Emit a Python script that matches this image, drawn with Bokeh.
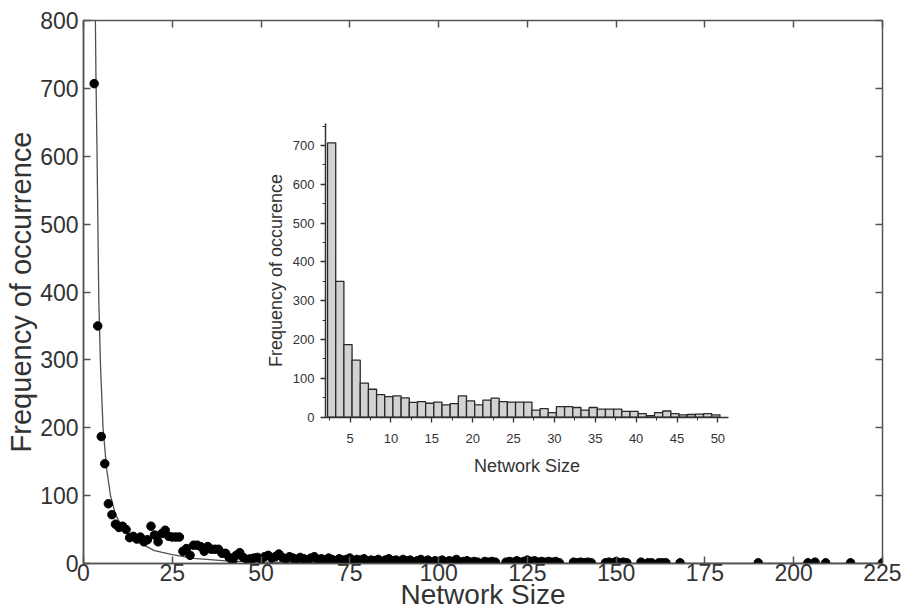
import numpy as np
from bokeh.plotting import figure
from bokeh.models import Range1d, LinearAxis, SingleIntervalTicker, ColumnDataSource
from bokeh.embed import file_html
from bokeh.resources import INLINE

# ---------------- data ----------------
# inset histogram: frequency of each network size 3..50
hist_sizes = list(range(3, 51))
hist_counts = [707, 350, 187, 147, 88, 72, 58, 53, 55, 50,
               38, 40, 36, 39, 32, 35, 55, 42, 32, 44,
               49, 40, 39, 39, 39, 18, 22, 12, 27, 27,
               25, 18, 25, 21, 21, 21, 15, 15, 9, 4,
               12, 16, 9, 6, 7, 8, 9, 6]

# main scatter: sizes beyond 50
tail_sizes = [51, 52, 53, 54, 55, 56, 57, 58, 59, 60,
              61, 62, 63, 64, 65, 66, 67, 68, 69, 70,
              71, 72, 73, 74, 75, 76, 77, 78, 79, 80,
              81, 82, 83, 84, 85, 86, 87, 88, 89, 90,
              91, 92, 93, 94, 95, 96, 97, 98, 99, 100,
              101, 102, 103, 104, 105, 106, 107, 108, 109, 110,
              111, 113, 114, 115, 116, 119, 120, 121, 122, 123,
              124, 125, 126, 127, 128, 129, 130, 131, 132, 133,
              134, 138, 139, 140, 141, 142, 143, 147, 148, 149,
              150, 151, 152, 153, 157, 159, 160, 162, 163, 164,
              168, 190, 204, 206, 209, 216, 225]
tail_counts = [10, 12, 8, 10, 14, 9, 7, 10, 8, 6,
               9, 7, 5, 8, 10, 6, 7, 5, 8, 6,
               4, 7, 5, 6, 8, 4, 6, 5, 7, 3,
               5, 4, 6, 3, 5, 7, 4, 5, 3, 6,
               4, 5, 2, 4, 6, 3, 5, 2, 4, 3,
               5, 2, 4, 3, 6, 2, 3, 4, 2, 3,
               2, 3, 2, 3, 2, 2, 3, 2, 4, 2,
               3, 5, 3, 4, 2, 3, 2, 3, 2, 3,
               1, 2, 1, 2, 1, 2, 1, 1, 2, 1,
               3, 1, 2, 1, 2, 1, 1, 1, 1, 1,
               1, 1, 1, 2, 1, 1, 1]

# fitted power-law curve
fit_x = [3.35, 3.5, 3.8, 4.3, 4.8, 5.5, 6.5, 7.6, 9.0, 11.3, 14.0, 17.0,
         20.0, 25.0, 31.0, 41.0, 50.0, 65.0, 80.0, 100.0, 150.0, 225.0]
fit_y = [800, 720, 610, 390, 290, 200, 140, 100, 72, 50, 36, 27,
         19, 13, 7.5, 3.5, 2.2, 1.2, 0.8, 0.5, 0.2, 0.1]

main_x_ticks_interval = 25
main_y_ticks_interval = 100

# ---------------- layout (pixels, figure coords) ----------------
W, H = 901, 615
FL, FT = 83, 20          # frame left/top
FR, FB = 882, 563        # frame right/bottom

# inset placement in figure pixels
IN_L, IN_R = 325, 728    # x pixels of inset x-range ends
IN_X0, IN_X1 = 2.0, 51.3
IN_Y0_PX, IN_Y700_PX = 416.7, 145.0
IN_YTOP = 757

TXT = "#333333"
AX = "#555555"
FONT = "Liberation Sans"

p = figure(width=W, height=H,
           x_range=Range1d(0, 225), y_range=Range1d(0, 800),
           output_backend="svg", toolbar_location=None,
           x_axis_type=None, y_axis_type=None,
           min_border_left=FL, min_border_top=FT,
           min_border_right=W - FR, min_border_bottom=H - FB)
p.grid.visible = False
p.outline_line_color = AX
p.outline_line_width = 1.5
p.background_fill_color = "white"

# extra ranges for inset, mapped to the full frame
sx = (IN_X1 - IN_X0) / (IN_R - IN_L)
ix_start = IN_X0 - (IN_L - FL) * sx
ix_end = IN_X0 + (FR - IN_L) * sx
sy = 700.0 / (IN_Y0_PX - IN_Y700_PX)
iy_start = -(FB - IN_Y0_PX) * sy
iy_end = (IN_Y0_PX - FT) * sy
p.extra_x_ranges = {"ix": Range1d(ix_start, ix_end)}
p.extra_y_ranges = {"iy": Range1d(iy_start, iy_end)}


def style_main(ax, labels=True):
    ax.axis_line_color = AX
    ax.axis_line_width = 1.5
    ax.major_tick_line_color = AX
    ax.major_tick_line_width = 1.5
    ax.major_tick_in = 7
    ax.major_tick_out = 0
    ax.minor_tick_line_color = None
    ax.major_label_text_color = TXT
    ax.major_label_text_font = FONT
    ax.axis_label_text_color = TXT
    ax.axis_label_text_font = FONT
    ax.axis_label_text_font_style = "normal"
    if not labels:
        ax.major_label_text_color = None
        ax.major_label_text_font_size = "1px"
        ax.major_label_standoff = 0
        ax.axis_line_color = None


xb = LinearAxis(ticker=SingleIntervalTicker(interval=main_x_ticks_interval, num_minor_ticks=0),
                axis_label="Network Size")
style_main(xb)
xb.major_label_text_font_size = "23px"
xb.axis_label_text_font_size = "28px"
xb.major_label_standoff = 0
xb.axis_label_standoff = -5
p.add_layout(xb, "below")

yl = LinearAxis(ticker=SingleIntervalTicker(interval=main_y_ticks_interval, num_minor_ticks=0),
                axis_label="Frequency of occurrence")
style_main(yl)
yl.major_label_text_font_size = "23px"
yl.axis_label_text_font_size = "29px"
yl.major_label_standoff = 5
yl.axis_label_standoff = 0
p.add_layout(yl, "left")

xt = LinearAxis(ticker=SingleIntervalTicker(interval=main_x_ticks_interval, num_minor_ticks=0))
style_main(xt, labels=False)
p.add_layout(xt, "above")
yr = LinearAxis(ticker=SingleIntervalTicker(interval=main_y_ticks_interval, num_minor_ticks=0))
style_main(yr, labels=False)
p.add_layout(yr, "right")

# ---------------- main glyphs ----------------
p.line(fit_x, fit_y, line_color="#505050", line_width=1.3)
all_x = hist_sizes + tail_sizes
all_y = hist_counts + tail_counts
p.scatter(all_x, all_y, size=8.5, fill_color="black", line_color="black", marker="circle")

# ---------------- inset ----------------
hs = np.array(hist_sizes, dtype=float)
src = ColumnDataSource(dict(left=hs - 0.75, right=hs + 0.25, top=hist_counts,
                            bottom=[0] * len(hist_counts)))
p.quad(left="left", right="right", top="top", bottom="bottom", source=src,
       x_range_name="ix", y_range_name="iy",
       fill_color="#d2d2d2", line_color="#2a2a2a", line_width=1.3)


def style_inset(ax):
    ax.axis_line_color = "#333333"
    ax.axis_line_width = 1.5
    ax.major_tick_line_color = "#333333"
    ax.major_tick_line_width = 1.3
    ax.minor_tick_line_color = "#333333"
    ax.minor_tick_line_width = 1.0
    ax.major_tick_in = 0
    ax.major_tick_out = 5
    ax.minor_tick_in = 0
    ax.minor_tick_out = 3
    ax.major_label_text_color = TXT
    ax.major_label_text_font = FONT
    ax.major_label_text_font_size = "13px"
    ax.axis_label_text_color = TXT
    ax.axis_label_text_font = FONT
    ax.axis_label_text_font_size = "18px"
    ax.axis_label_text_font_style = "normal"


ixa = LinearAxis(x_range_name="ix", y_range_name="iy", fixed_location=0,
                 bounds=(IN_X0, IN_X1),
                 ticker=SingleIntervalTicker(interval=5, num_minor_ticks=2),
                 axis_label="Network Size")
style_inset(ixa)
ixa.major_label_standoff = 12
ixa.axis_label_standoff = 9
p.add_layout(ixa, "below")

iya = LinearAxis(x_range_name="ix", y_range_name="iy", fixed_location=IN_X0,
                 bounds=(0, IN_YTOP),
                 ticker=SingleIntervalTicker(interval=100, num_minor_ticks=2),
                 axis_label="Frequency of occurence")
style_inset(iya)
iya.major_label_standoff = 6
iya.axis_label_standoff = 4
p.add_layout(iya, "left")

open("out.html", "w").write(file_html(p, INLINE))
